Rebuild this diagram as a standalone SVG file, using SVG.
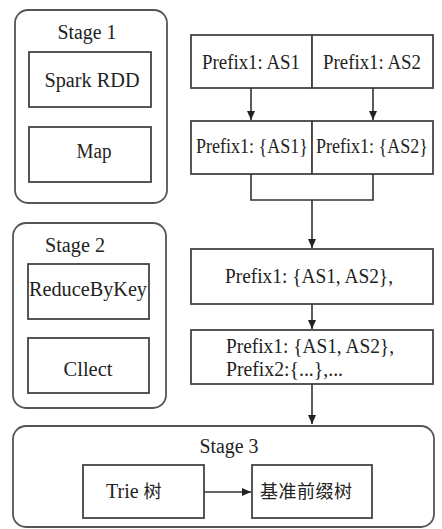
<svg xmlns="http://www.w3.org/2000/svg" width="442" height="529" viewBox="0 0 442 529">
<defs>
<style>
.stage{fill:none;stroke:#555;stroke-width:1.8}
.box{fill:#fff;stroke:#444;stroke-width:1.8}
.t{font-family:'Liberation Serif','Noto Sans CJK SC',serif;font-size:20px;fill:#222}
.zh{font-family:'Noto Sans CJK SC',sans-serif;font-size:18px;fill:#222}
.c{text-anchor:middle}
.ln{fill:none;stroke:#333;stroke-width:1.6}
</style>
<marker id="ah" markerWidth="10" markerHeight="10" refX="9" refY="5" orient="auto" markerUnits="userSpaceOnUse">
<path d="M0,1 L9,5 L0,9 Z" fill="#222"/>
</marker>
</defs>
<rect width="442" height="529" fill="#fff"/>
<g id="stage1">
<rect class="stage" x="15" y="10" width="152" height="193" rx="13"/>
<text class="t c" x="87" y="39" textLength="59" lengthAdjust="spacingAndGlyphs">Stage 1</text>
</g>
<g id="spark-rdd">
<rect class="box" x="29" y="52" width="122" height="55"/>
<text class="t c" x="92" y="87" textLength="95" lengthAdjust="spacingAndGlyphs">Spark RDD</text>
</g>
<g id="map">
<rect class="box" x="29" y="127" width="122" height="55"/>
<text class="t c" x="94" y="158" textLength="35" lengthAdjust="spacingAndGlyphs">Map</text>
</g>
<g id="stage2">
<rect class="stage" x="13" y="223" width="153" height="185" rx="13"/>
<text class="t c" x="75" y="252" textLength="60" lengthAdjust="spacingAndGlyphs">Stage 2</text>
</g>
<g id="reducebykey">
<rect class="box" x="28" y="264" width="121" height="55"/>
<text class="t c" x="88" y="296" textLength="118" lengthAdjust="spacingAndGlyphs">ReduceByKey</text>
</g>
<g id="cllect">
<rect class="box" x="28" y="338" width="121" height="55"/>
<text class="t c" x="88" y="376" textLength="49" lengthAdjust="spacingAndGlyphs">Cllect</text>
</g>
<g id="stage3">
<rect class="stage" x="13" y="426" width="421" height="101" rx="13"/>
<text class="t c" x="229" y="453" textLength="59" lengthAdjust="spacingAndGlyphs">Stage 3</text>
</g>
<g id="trie">
<rect class="box" x="83" y="465" width="121" height="53"/>
<text class="t" x="106" y="498">Trie <tspan class="zh">树</tspan></text>
</g>
<g id="base-tree">
<rect class="box" x="252" y="465" width="120" height="53"/>
<text class="zh" x="260" y="498" textLength="92">基准前缀树</text>
</g>
<g id="p1as1">
<rect class="box" x="191" y="35" width="121" height="53"/>
<text class="t c" x="251" y="69" textLength="98" lengthAdjust="spacingAndGlyphs">Prefix1: AS1</text>
</g>
<g id="p1as2">
<rect class="box" x="312" y="35" width="121" height="53"/>
<text class="t c" x="372" y="69" textLength="98" lengthAdjust="spacingAndGlyphs">Prefix1: AS2</text>
</g>
<g id="p1set1">
<rect class="box" x="191" y="121" width="121" height="53"/>
<text class="t c" x="252" y="153" textLength="112" lengthAdjust="spacingAndGlyphs">Prefix1: {AS1}</text>
</g>
<g id="p1set2">
<rect class="box" x="312" y="121" width="121" height="53"/>
<text class="t c" x="372" y="153" textLength="112" lengthAdjust="spacingAndGlyphs">Prefix1: {AS2}</text>
</g>
<g id="merged">
<rect class="box" x="191" y="249" width="242" height="55"/>
<text class="t" x="225" y="283" textLength="168" lengthAdjust="spacingAndGlyphs">Prefix1: {AS1, AS2},</text>
</g>
<g id="collected">
<rect class="box" x="191" y="330" width="242" height="54"/>
<text class="t" x="226" y="353" textLength="168" lengthAdjust="spacingAndGlyphs">Prefix1: {AS1, AS2},</text>
<text class="t" x="226" y="376" textLength="117" lengthAdjust="spacingAndGlyphs">Prefix2:{...},...</text>
</g>
<g id="connectors">
<line class="ln" x1="251" y1="88" x2="251" y2="120" marker-end="url(#ah)"/>
<line class="ln" x1="373" y1="88" x2="373" y2="120" marker-end="url(#ah)"/>
<polyline class="ln" points="251,174 251,200 373,200 373,174"/>
<line class="ln" x1="312" y1="200" x2="312" y2="248" marker-end="url(#ah)"/>
<line class="ln" x1="312" y1="304" x2="312" y2="329" marker-end="url(#ah)"/>
<line class="ln" x1="312" y1="384" x2="312" y2="424" marker-end="url(#ah)"/>
<line class="ln" x1="204" y1="492" x2="251" y2="492" marker-end="url(#ah)"/>
</g>
</svg>
